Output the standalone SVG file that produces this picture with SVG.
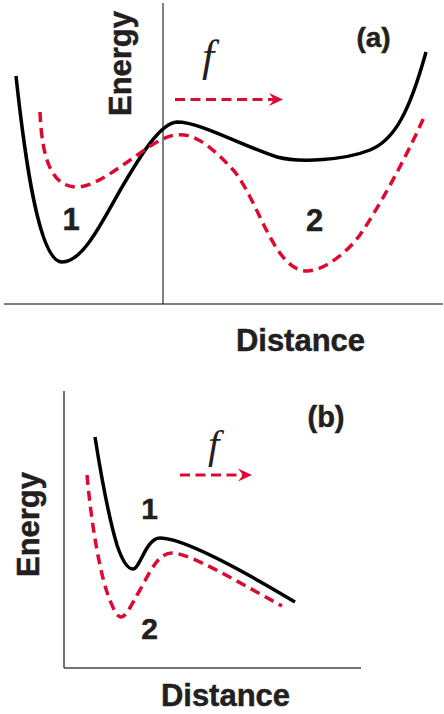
<svg xmlns="http://www.w3.org/2000/svg" width="444" height="714" viewBox="0 0 444 714">
<style>
.lbl{font-family:"Liberation Sans",Arial,sans-serif;font-weight:bold;fill:#231f20;stroke:#231f20;stroke-width:0.5}
.f{font-family:"Liberation Serif","Times New Roman",serif;font-style:italic;fill:#231f20}
.blk{fill:none;stroke:#000;stroke-width:3.5;stroke-linecap:butt;stroke-linejoin:round}
.red{fill:none;stroke:#dc0a32;stroke-width:3.5;stroke-dasharray:10 6}
.arr{fill:none;stroke:#dc0a32;stroke-width:3;stroke-dasharray:10 5.5}
.ah{fill:#dc0a32}
.axA{stroke:#000;stroke-width:1;fill:none}
.axB{stroke:#444;stroke-width:1.5;fill:none}
</style>
<g id="panel-a">
  <g id="axes-a">
    <line class="axA" x1="163" y1="3" x2="163" y2="304"/>
    <line class="axA" x1="4" y1="304" x2="443" y2="304"/>
  </g>
  <text id="energy-a" class="lbl" font-size="31" transform="translate(131,63.5) rotate(-90)" text-anchor="middle">Energy</text>
  <text id="distance-a" class="lbl" font-size="31" x="300.5" y="351" text-anchor="middle">Distance</text>
  <text id="label-a" class="lbl" font-size="28" x="373.5" y="47" text-anchor="middle">(a)</text>
  <text id="f-a" class="f" font-size="44" x="202" y="71">f</text>
  <text id="num1-a" class="lbl" font-size="31" x="71" y="230" text-anchor="middle">1</text>
  <text id="num2-a" class="lbl" font-size="31" x="314.5" y="231" text-anchor="middle">2</text>
  <g id="curves-a">
    <path class="blk" d="M16,76 C24,150 38,262 62,262 C85,262 105,215 125,182 C140,157 160,123 177,122 C200,122 240,145 277,157 C300,163 345,160 370,150 C395,140 410,110 426,52"/>
    <path class="red" d="M40,112 C42,160 52,187 77,187 C105,187 150,138 175,135 C195,132 213,148 235,172 C260,205 275,271 307,271 C325,271 350,250 362,232 C380,205 405,160 425,115"/>
  </g>
  <g id="force-a">
    <line class="arr" x1="175" y1="99.5" x2="274" y2="99.5"/>
    <path class="ah" d="M283,99.5 L269,93 L274,99.5 L269,106 Z"/>
  </g>
</g>
<g id="panel-b">
  <g id="axes-b">
    <line class="axB" x1="64" y1="391" x2="64" y2="668"/>
    <line class="axB" x1="64" y1="668" x2="361" y2="668"/>
  </g>
  <text id="energy-b" class="lbl" font-size="31" transform="translate(39,524.5) rotate(-90)" text-anchor="middle">Energy</text>
  <text id="distance-b" class="lbl" font-size="31" x="225.5" y="706" text-anchor="middle">Distance</text>
  <text id="label-b" class="lbl" font-size="29" x="326" y="427" text-anchor="middle">(b)</text>
  <text id="f-b" class="f" font-size="41" x="208" y="458">f</text>
  <text id="num1-b" class="lbl" font-size="30" x="149.5" y="519" text-anchor="middle">1</text>
  <text id="num2-b" class="lbl" font-size="30" x="149.5" y="639" text-anchor="middle">2</text>
  <g id="curves-b">
    <path class="blk" d="M95,437 C101,475 108,515 117,545 C122,560 127,569 133,569 C140,569 146,538 160,538 C185,538 250,575 295,602"/>
    <path class="red" d="M87,475 C91,520 100,580 112,605 C115,613 118,617 121,617 C126,617 130,607 140,590 C150,572 158,553 172,553 C190,553 240,583 282,606"/>
  </g>
  <g id="force-b">
    <line class="arr" x1="180" y1="475" x2="243" y2="475"/>
    <path class="ah" d="M252,475 L238,468.5 L243,475 L238,481.5 Z"/>
  </g>
</g>
</svg>
